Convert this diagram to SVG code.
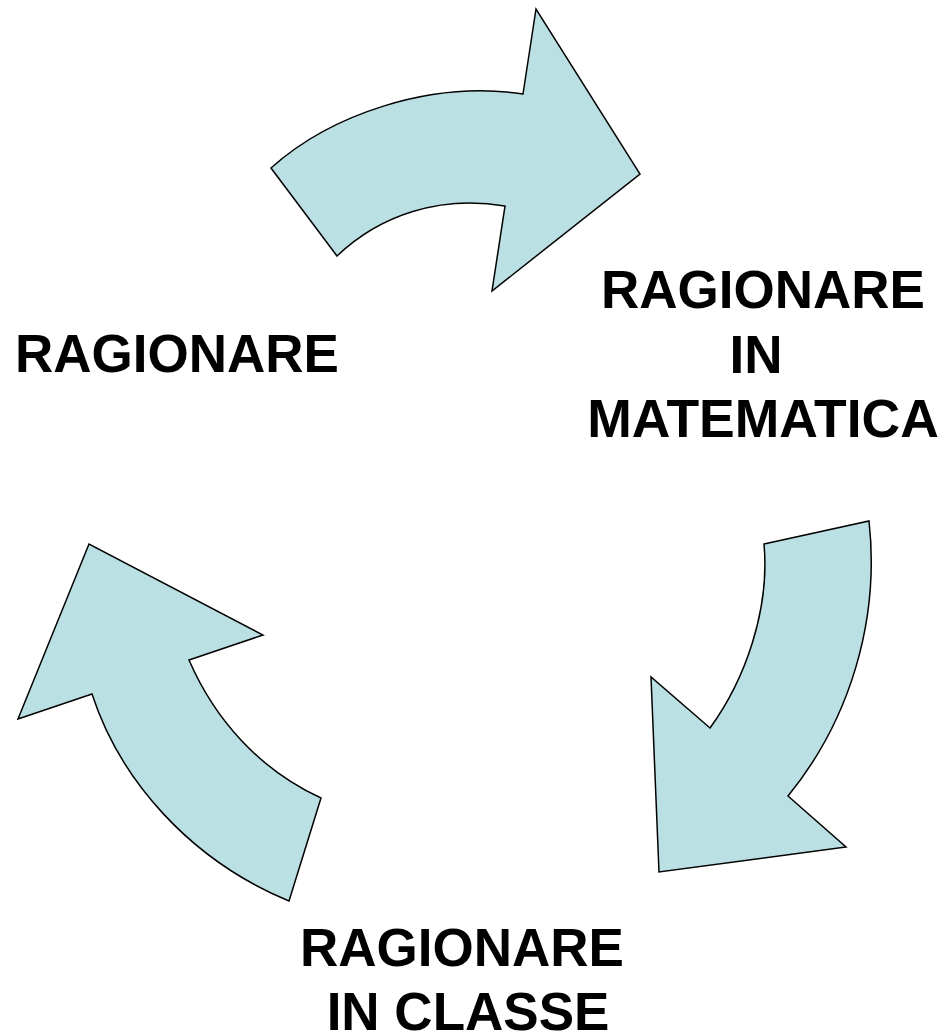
<svg xmlns="http://www.w3.org/2000/svg" width="947" height="1035" viewBox="0 0 947 1035">
<style>
.arrow{fill:#BBE0E3;stroke:#000;stroke-width:1.5;stroke-linejoin:miter}
.lbl{font-family:"Liberation Sans",Arial,sans-serif;font-weight:bold;font-size:53px;fill:#000}
</style>
<rect width="947" height="1035" fill="#fff"/>
<g id="connectors">
<path id="arrow-top" class="arrow" d="M271,168 C330,115 430,80 523,94 L536,9 L640,174 L492,291 L505,206 C440,195 380,215 337,256 Z"/>
<path id="arrow-right" class="arrow" d="M764,544 L869,521 C880,620 850,720 788,796 L846,847 L659,872 L651,677 L710,728 C745,680 770,610 764,544 Z"/>
<path id="arrow-left" class="arrow" d="M321,798 L289,901 C190,860 120,780 92,694 L18,719 L89,544 L263,635 L189,660 C215,720 260,770 321,798 Z"/>
</g>
<g id="node-ragionare">
<text class="lbl" x="15" y="372">RAGIONARE</text>
</g>
<g id="node-matematica">
<text class="lbl" x="763" y="308" text-anchor="middle">RAGIONARE</text>
<text class="lbl" x="756" y="373" text-anchor="middle">IN</text>
<text class="lbl" x="763" y="437" text-anchor="middle" style="font-size:53.5px">MATEMATICA</text>
</g>
<g id="node-classe">
<text class="lbl" x="462" y="966" text-anchor="middle">RAGIONARE</text>
<text class="lbl" x="468" y="1030" text-anchor="middle">IN CLASSE</text>
</g>
</svg>
